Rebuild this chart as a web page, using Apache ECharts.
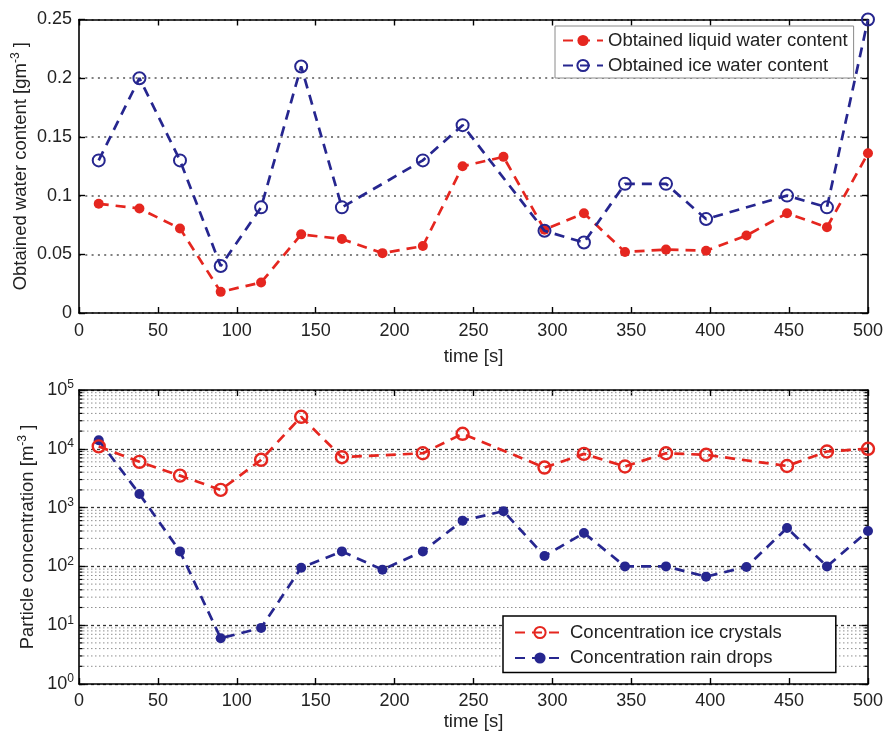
<!DOCTYPE html>
<html>
<head>
<meta charset="utf-8">
<title>Water content and particle concentration</title>
<script src="https://cdn.jsdelivr.net/npm/echarts@6/dist/echarts.min.js"></script>
<style>
  html, body { margin: 0; padding: 0; background: #fff; }
  #chart { width: 886px; height: 732px; }
</style>
</head>
<body>
<div id="chart"></div>
<script>
// Sample times [s]
const times = [12.5, 38.3, 64, 89.8, 115.4, 140.8, 166.6, 192.3, 217.9, 243.1,
               269, 295, 320, 346, 372, 397.4, 423, 448.7, 474, 500];

// Obtained water content [g m^-3]
const liquidWater = [0.093, 0.089, 0.072, 0.018, 0.026, 0.067, 0.063, 0.051, 0.057, 0.125,
                     0.133, 0.071, 0.085, 0.052, 0.054, 0.053, 0.066, 0.085, 0.073, 0.136];
const iceWater = [0.13, 0.20, 0.13, 0.04, 0.09, 0.21, 0.09, null, 0.13, 0.16,
                  null, 0.07, 0.06, 0.11, 0.11, 0.08, null, 0.10, 0.09, 0.25];

// Particle concentration [m^-3]
const iceCrystals = [11000, 6000, 3500, 2000, 6500, 35000, 7200, null, 8400, 18000,
                     null, 4800, 8200, 5000, 8400, 7900, null, 5100, 9000, 10000];
const rainDrops = [14000, 1700, 180, 6, 9, 95, 180, 88, 180, 600,
                   870, 150, 370, 100, 100, 67, 98, 450, 100, 400];

// Axis ranges and tick steps
const timeRange = [0, 500];
const timeStep = 50;
const waterRange = [0, 0.25];
const waterStep = 0.05;
const concRange = [1, 100000];

// Minor levels of the logarithmic axis (2..9 within each decade)
const minorLevels = [2, 3, 4, 5, 6, 7, 8, 9,
                     20, 30, 40, 50, 60, 70, 80, 90,
                     200, 300, 400, 500, 600, 700, 800, 900,
                     2000, 3000, 4000, 5000, 6000, 7000, 8000, 9000,
                     20000, 30000, 40000, 50000, 60000, 70000, 80000, 90000];

const RED = '#e5261f';
const BLUE = '#26268f';
const FONT = '"Liberation Sans", Arial, Helvetica, sans-serif';
const TXT = '#222';
const DASH = [10, 7];
const FS = 18.5;

const pairs = (xs, ys) => xs.map((x, i) => [x, ys[i]]);

const frameLine = { show: true, onZero: false, lineStyle: { color: '#000', width: 1.6 } };
const inTick = { show: true, inside: true, length: 6, lineStyle: { color: '#000', width: 1.4 } };
const labelStyle = { color: TXT, fontSize: 18, fontFamily: FONT };
const nameRich = {
  a: { fontSize: FS, fontFamily: FONT, color: TXT, lineHeight: 22 },
  s: { fontSize: 12, fontFamily: FONT, color: TXT, lineHeight: 12, verticalAlign: 'top' }
};

function timeAxis(gridIndex, main) {
  return {
    type: 'value', gridIndex, position: main ? 'bottom' : 'top',
    min: timeRange[0], max: timeRange[1], interval: timeStep,
    axisLine: frameLine, axisTick: inTick,
    axisLabel: main ? Object.assign({ show: true, margin: gridIndex === 0 ? 9 : 8 }, labelStyle) : { show: false },
    splitLine: { show: false },
    name: main ? 'time [s]' : '', nameLocation: 'middle',
    nameGap: gridIndex === 0 ? 34 : 28, nameMoveOverlap: false,
    nameTextStyle: { fontSize: FS, fontFamily: FONT, color: TXT }
  };
}

function waterAxis(main) {
  return {
    type: 'value', gridIndex: 0, position: main ? 'left' : 'right',
    min: waterRange[0], max: waterRange[1], interval: waterStep,
    axisLine: frameLine, axisTick: inTick,
    axisLabel: main ? Object.assign({ show: true, margin: 7 }, labelStyle) : { show: false },
    splitLine: main ? { show: true, lineStyle: { color: '#808080', width: 2, type: [2, 4.3] } } : { show: false },
    name: main ? '{a|Obtained water content [gm}{s|-3}{a| ]}' : '',
    nameLocation: 'middle', nameGap: 47, nameMoveOverlap: false,
    nameTextStyle: { rich: nameRich }
  };
}

function concAxis(main) {
  return {
    type: 'log', logBase: 10, gridIndex: 1, position: main ? 'left' : 'right',
    min: concRange[0], max: concRange[1],
    axisLine: frameLine, axisTick: inTick,
    axisLabel: main ? {
      show: true, margin: 5,
      formatter: v => '{b|10}{s|' + Math.round(Math.log10(v)) + '}',
      rich: {
        b: { fontSize: 18, fontFamily: FONT, color: TXT, lineHeight: 22 },
        s: { fontSize: 12, fontFamily: FONT, color: TXT, lineHeight: 12, verticalAlign: 'top' }
      }
    } : { show: false },
    splitLine: main ? { show: true, lineStyle: { color: '#333', width: 1.3, type: [3, 3] } } : { show: false },
    name: main ? '{a|Particle concentration [m}{s|-3}{a| ]}' : '',
    nameLocation: 'middle', nameGap: 40, nameMoveOverlap: false,
    nameTextStyle: { rich: nameRich }
  };
}

// Minor grid lines and minor ticks of the log axis
function renderMinor(params, api) {
  const cs = params.coordSys;
  const y = api.coord([timeRange[0], api.value(1)])[1];
  const x0 = cs.x, x1 = cs.x + cs.width;
  return {
    type: 'group',
    children: [
      { type: 'line', shape: { x1: x0, y1: y, x2: x1, y2: y },
        style: { stroke: '#8f8f8f', lineWidth: 1, lineDash: [1.5, 2.5] } },
      { type: 'line', shape: { x1: x0, y1: y, x2: x0 + 3.5, y2: y },
        style: { stroke: '#000', lineWidth: 1.2 } },
      { type: 'line', shape: { x1: x1 - 3.5, y1: y, x2: x1, y2: y },
        style: { stroke: '#000', lineWidth: 1.2 } }
    ]
  };
}

const chart = echarts.init(document.getElementById('chart'), null, { renderer: 'canvas' });

chart.setOption({
  backgroundColor: '#fff',
  animation: false,
  grid: [
    { left: 79, top: 19.5, width: 789, height: 293.5, show: false },
    { left: 79, top: 390, width: 789, height: 294.3, show: false }
  ],
  xAxis: [timeAxis(0, true), timeAxis(0, false), timeAxis(1, true), timeAxis(1, false)],
  yAxis: [waterAxis(true), waterAxis(false), concAxis(true), concAxis(false)],
  legend: [
    {
      data: ['Obtained liquid water content', 'Obtained ice water content'],
      left: 555, top: 26, orient: 'vertical',
      padding: [5, 6, 3, 7], itemGap: 6, itemWidth: 40, itemHeight: 14,
      backgroundColor: '#fff', borderColor: '#8a8a8a', borderWidth: 1,
      textStyle: { fontSize: FS, fontFamily: FONT, color: TXT }
    },
    {
      data: ['Concentration ice crystals', 'Concentration rain drops'],
      left: 503, top: 616, orient: 'vertical',
      padding: [7, 54, 5, 11], itemGap: 6.5, itemWidth: 50, itemHeight: 14,
      backgroundColor: '#fff', borderColor: '#000', borderWidth: 1.5,
      textStyle: { fontSize: FS, fontFamily: FONT, color: TXT }
    }
  ],
  series: [
    {
      type: 'custom', name: 'minor', xAxisIndex: 2, yAxisIndex: 2,
      data: minorLevels.map(v => [timeRange[0], v]),
      renderItem: renderMinor, silent: true, z: 1
    },
    {
      name: 'Obtained liquid water content', type: 'line', xAxisIndex: 0, yAxisIndex: 0,
      data: pairs(times, liquidWater), connectNulls: true,
      symbol: 'circle', symbolSize: 10,
      lineStyle: { color: RED, width: 2.7, type: DASH },
      itemStyle: { color: RED }, z: 3
    },
    {
      name: 'Obtained ice water content', type: 'line', xAxisIndex: 0, yAxisIndex: 0,
      data: pairs(times, iceWater), connectNulls: true,
      symbol: 'circle', symbolSize: 12,
      lineStyle: { color: BLUE, width: 2.7, type: DASH },
      itemStyle: { color: 'rgba(255,255,255,0)', borderColor: BLUE, borderWidth: 2 }, z: 4
    },
    {
      name: 'Concentration ice crystals', type: 'line', xAxisIndex: 2, yAxisIndex: 2,
      data: pairs(times, iceCrystals), connectNulls: true,
      symbol: 'circle', symbolSize: 12,
      lineStyle: { color: RED, width: 2.7, type: DASH },
      itemStyle: { color: 'rgba(255,255,255,0)', borderColor: RED, borderWidth: 2.4 }, z: 4
    },
    {
      name: 'Concentration rain drops', type: 'line', xAxisIndex: 2, yAxisIndex: 2,
      data: pairs(times, rainDrops), connectNulls: true,
      symbol: 'circle', symbolSize: 10,
      lineStyle: { color: BLUE, width: 2.7, type: DASH },
      itemStyle: { color: BLUE }, z: 3
    }
  ]
});
</script>
</body>
</html>
